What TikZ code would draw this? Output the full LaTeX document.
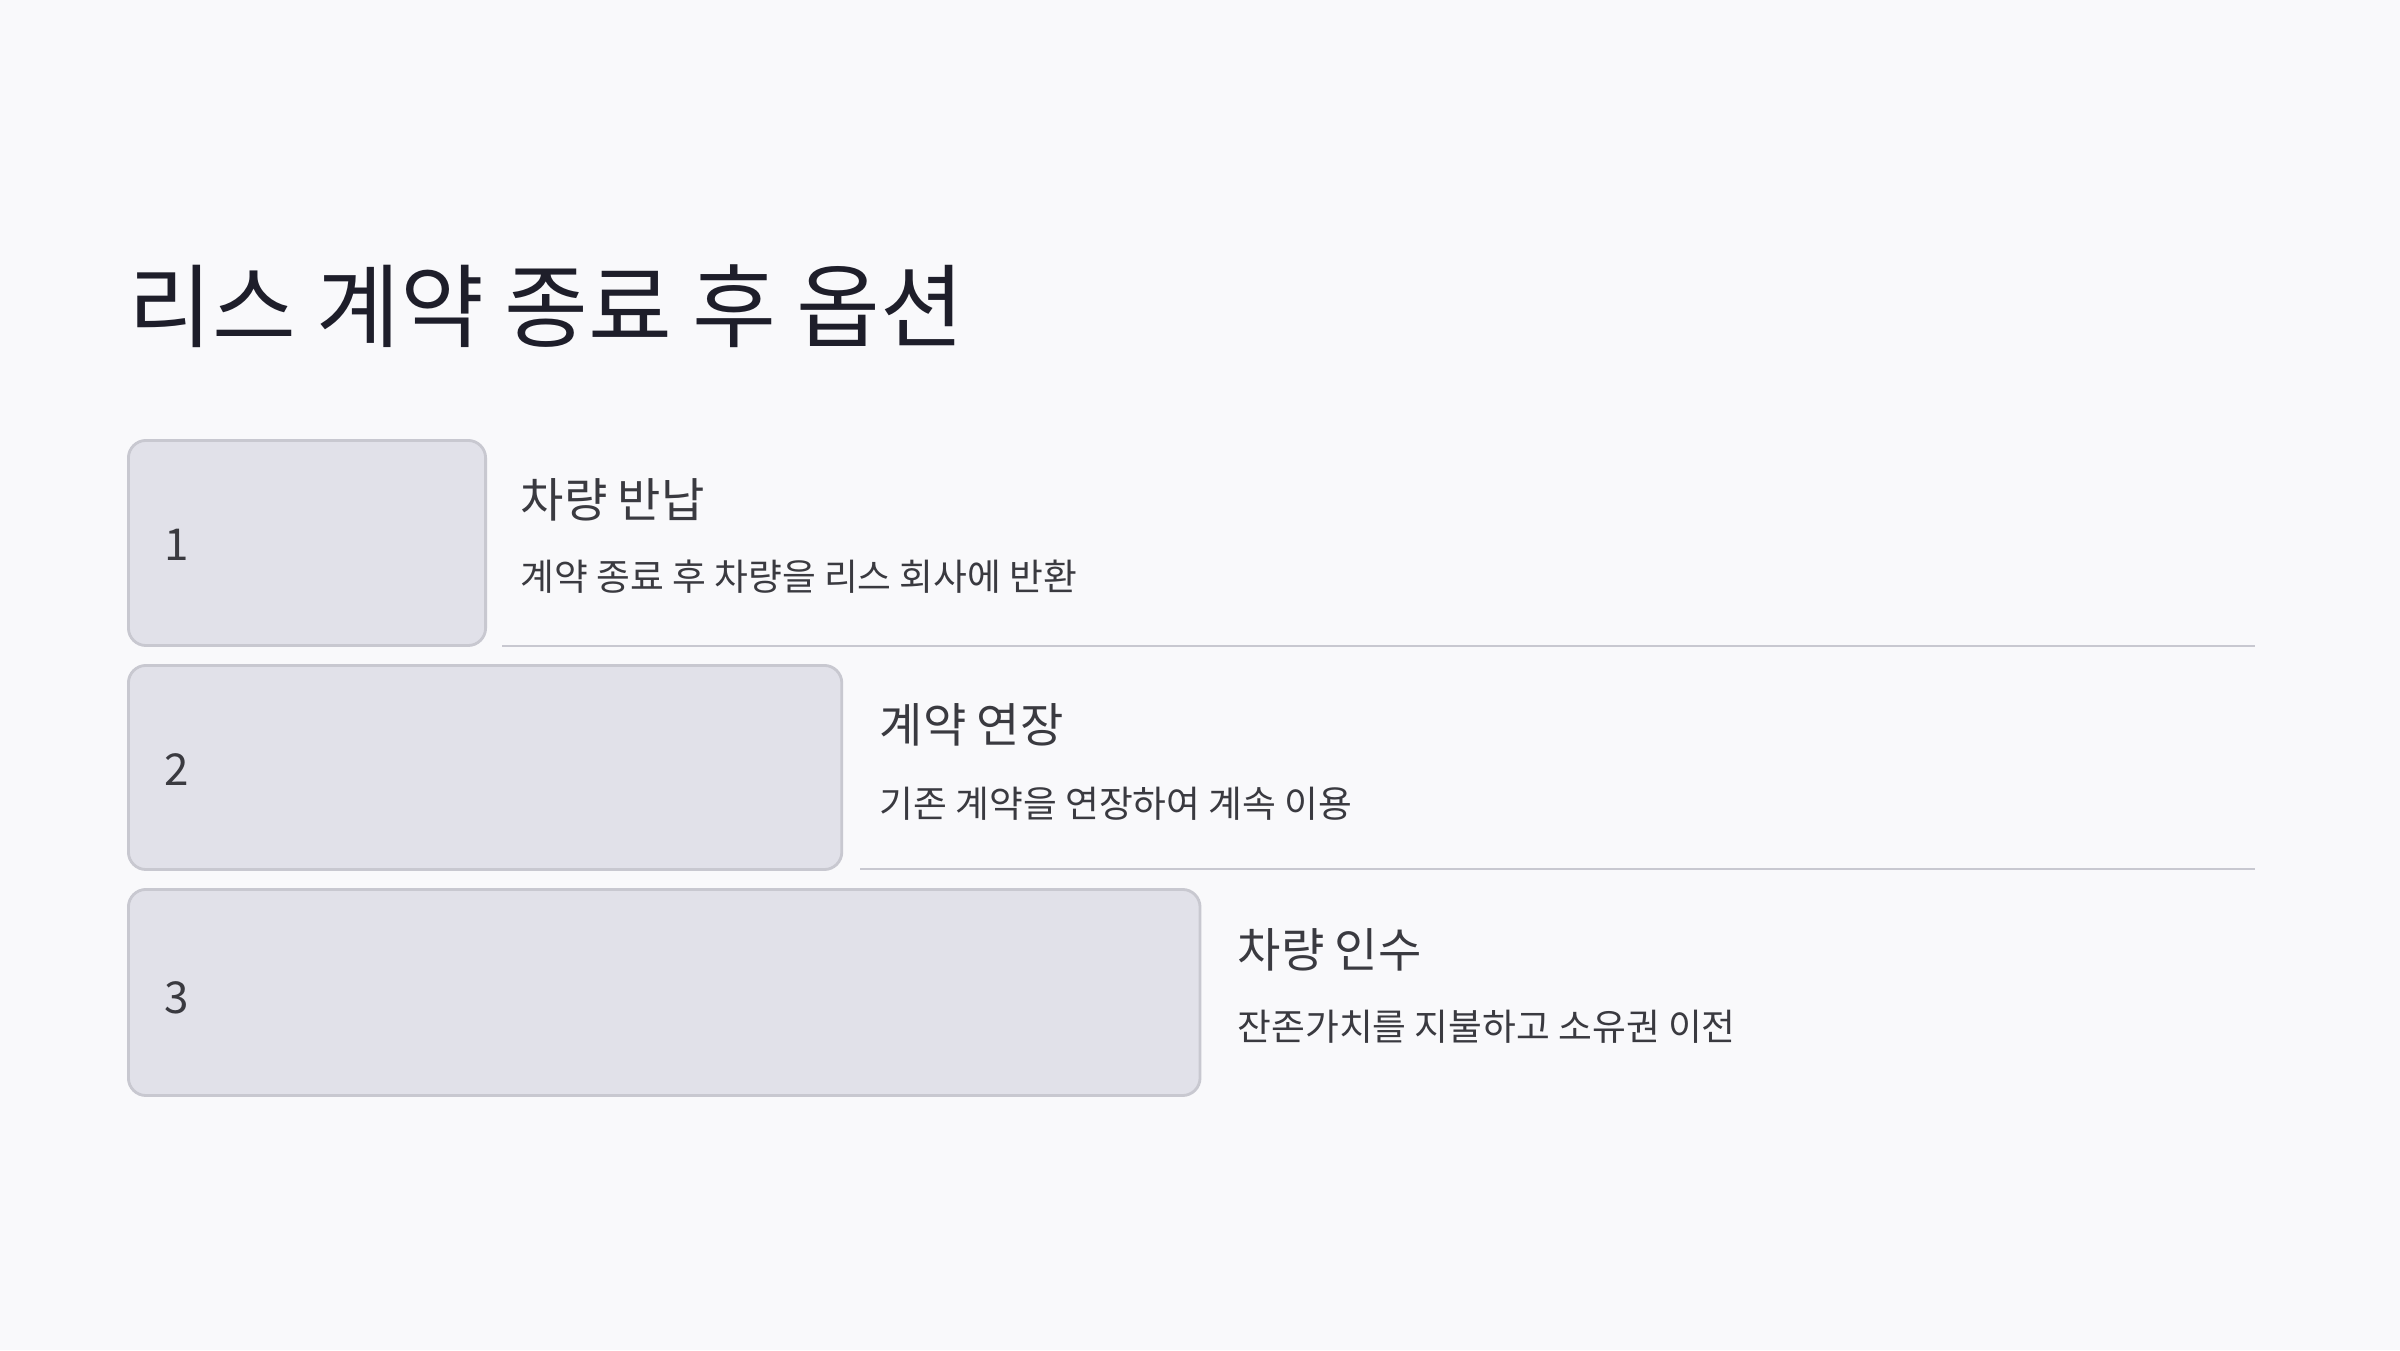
\documentclass[tikz,border=0pt]{standalone}
\usepackage{fontspec}
\setmainfont{Noto Sans CJK KR}
\usepackage{tikz}
\usetikzlibrary{positioning}
\definecolor{bgcol}{HTML}{F9F9FB}
\definecolor{boxfill}{HTML}{E1E1E9}
\definecolor{boxline}{HTML}{C8C8D0}
\definecolor{titlecol}{HTML}{1E1E2A}
\definecolor{textcol}{HTML}{3A3A40}

\begin{document}
\begin{tikzpicture}[x=0.01cm,y=-0.01cm]
	\fill[bgcol] (0,0) rectangle (2400,1350);
	\useasboundingbox (0,0) rectangle (2400,1350);

	\node[anchor=west, inner sep=0pt, text=titlecol, font=\fontsize{25.9}{30}\selectfont] (title) at (128,306) {리스 계약 종료 후 옵션};

	\begin{scope}[every node/.style={draw=boxline, fill=boxfill, rounded corners=5pt, anchor=north west, line width=0.8pt, inner sep=0pt}]
		\node[minimum width=3.57cm, minimum height=2.05cm] (b1) at (127,439) {};
		\node[minimum width=7.13cm, minimum height=2.04cm] (b2) at (127,664) {};
		\node[minimum width=10.71cm, minimum height=2.06cm] (b3) at (127,888) {};
	\end{scope}

	\begin{scope}[every node/.style={anchor=west, inner sep=0pt, text=textcol}]
		\node[font=\fontsize{12.5}{15}\selectfont] (n1) at (164,545) {1};
		\node[font=\fontsize{12.5}{15}\selectfont] (n2) at (164,770) {2};
		\node[font=\fontsize{12.5}{15}\selectfont] (n3) at (164,998) {3};

		\node[font=\fontsize{13.4}{16}\selectfont] (h1) at (520,500) {차량 반납};
		\node[font=\fontsize{10.45}{13}\selectfont] (d1) at (520,577) {계약 종료 후 차량을 리스 회사에 반환};
		\node[font=\fontsize{13.4}{16}\selectfont] (h2) at (879,725) {계약 연장};
		\node[font=\fontsize{10.45}{13}\selectfont] (d2) at (879,804) {기존 계약을 연장하여 계속 이용};
		\node[font=\fontsize{13.4}{16}\selectfont] (h3) at (1237,950) {차량 인수};
		\node[font=\fontsize{10.45}{13}\selectfont] (d3) at (1237,1027) {잔존가치를 지불하고 소유권 이전};
	\end{scope}

	\coordinate (l1a) at (502,646);
	\coordinate (l1b) at (2255,646);
	\coordinate (l2a) at (860,869);
	\coordinate (l2b) at (2255,869);
	\draw[boxline, line width=0.8pt] (l1a) -- (l1b);
	\draw[boxline, line width=0.8pt] (l2a) -- (l2b);
\end{tikzpicture}
\end{document}
